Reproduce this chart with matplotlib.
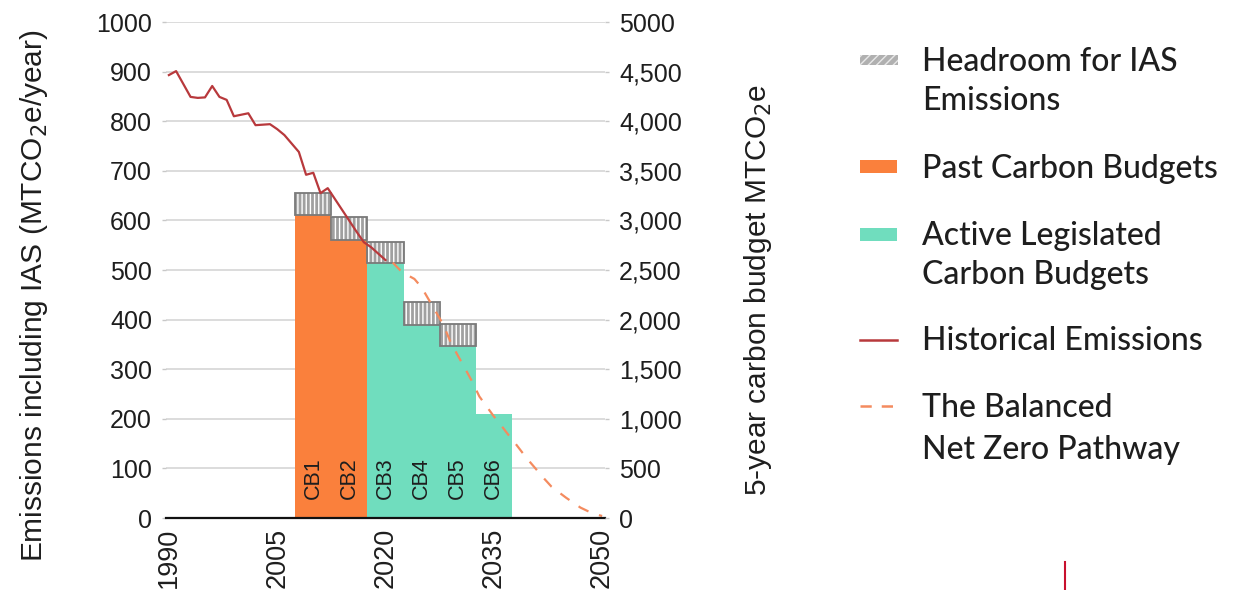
import matplotlib.pyplot as plt
import matplotlib.patches as mpatches
from matplotlib.lines import Line2D
import numpy as np

# carbon budgets (annualised, MtCO2e/year)
budget_names = ["CB1", "CB2", "CB3", "CB4", "CB5", "CB6"]
budget_start = [2008, 2013, 2018, 2023, 2028, 2033]
budget_values = [611, 560, 514, 389, 347, 210]
headroom = [44, 47, 42, 46, 44, 0]
budget_past = [True, True, False, False, False, False]

hist_years = list(range(1990, 2021))
hist_values = [893, 901, 875, 849, 847, 848, 871, 849, 843, 810, 813, 816,
               792, 793, 794, 784, 772, 755, 738, 692, 696, 655, 665, 643,
               621, 599, 577, 556, 546, 533, 520]

path_years = list(range(2021, 2051))
path_values = [515, 500, 490, 482, 465, 440, 415, 390, 355, 328, 302, 275,
               245, 225, 205, 187, 168, 150, 131, 113, 96, 79, 63, 52, 41,
               31, 21, 14, 8, 4]

xticks = [1990, 2005, 2020, 2035, 2050]
left_ticks = list(range(0, 1001, 100))
right_ticks = list(range(0, 5001, 500))
right_labels = ["0", "500", "1,000", "1,500", "2,000", "2,500", "3,000",
                "3,500", "4,000", "4,500", "5000"]

ORANGE = "#FA803C"
GREEN = "#70DDBE"
RED = "#B8393C"
DASH = "#F48B5F"
TXT = "#1e1e1e"
axfont = "Liberation Sans"
legfont = "Lato"

W, H = 1251, 590
fig = plt.figure(figsize=(W / 100, H / 100), dpi=100)
ax = fig.add_axes([166 / W, 72 / H, 439 / W, 496 / H])

for y in left_ticks[1:]:
    ax.axhline(y, color="#d9d9d9", lw=1.3, zorder=0)

for name, s, v, hr, past in zip(budget_names, budget_start, budget_values,
                                 headroom, budget_past):
    c = s + 2
    ax.bar(c, v, width=5, color=ORANGE if past else GREEN, lw=0, zorder=2)
    if hr > 0:
        ax.bar(c, hr, bottom=v, width=5, facecolor="#a0a0a0", lw=0, zorder=2)
        ax.bar(c, hr, bottom=v, width=5, facecolor="none", edgecolor="white",
               hatch="||||", lw=0, zorder=3)
        ax.bar(c, hr, bottom=v, width=5, facecolor="none", edgecolor="#7a7a7a",
               lw=1.3, zorder=4)
    ax.text(c, 38, name, rotation=90, ha="center", va="bottom", fontsize=15.5,
            color=TXT, family=axfont, zorder=5)

ax.plot(hist_years, hist_values, color=RED, lw=1.6, zorder=6)
ax.plot(path_years, path_values, color=DASH, lw=1.6, ls=(0, (5, 5)), zorder=6)

ax.set_xlim(1989.6, 2050.4)
ax.set_ylim(0, 1000)
ax.set_xticks(xticks)
ax.set_xticklabels([str(x) for x in xticks], rotation=90, fontsize=19.5,
                   family=axfont, color=TXT)
ax.set_yticks(left_ticks)
ax.set_yticklabels([str(t) for t in left_ticks], fontsize=18, family=axfont,
                   color=TXT)
ax.tick_params(axis="x", length=0, pad=7)
ax.tick_params(axis="y", length=3, width=1, color="#c8c8c8", pad=7)
for sp in ["top", "left", "right"]:
    ax.spines[sp].set_visible(False)
ax.spines["bottom"].set_color("#111111")
ax.spines["bottom"].set_linewidth(1.6)
ax.spines["bottom"].set_zorder(7)
ax.set_ylabel("Emissions including IAS (MTCO$_2$e/year)", fontsize=21.5,
              family=axfont, color=TXT)
ax.yaxis.set_label_coords(-0.264, 0.448)

ax2 = ax.twinx()
ax2.set_ylim(0, 5000)
ax2.set_yticks(right_ticks)
ax2.set_yticklabels(right_labels, fontsize=18, family=axfont, color=TXT)
ax2.tick_params(axis="y", length=3, width=1, color="#c8c8c8", pad=7)
for sp in ax2.spines.values():
    sp.set_visible(False)
ax2.set_ylabel("5-year carbon budget MTCO$_2$e", fontsize=21.5, family=axfont,
               color=TXT)
ax2.yaxis.set_label_coords(1.312, 0.46)

# legend drawn by hand so the keys sit on the first line of each entry
def fx(x):
    return x / W


def fy(y):
    return 1 - y / H


fig.add_artist(mpatches.Rectangle((fx(860), fy(65)), 38 / W, 10 / H,
                                  facecolor="#b0b0b0", edgecolor="#e8e8e8",
                                  hatch="////", lw=0, transform=fig.transFigure))
fig.add_artist(mpatches.Rectangle((fx(860), fy(173)), 37 / W, 13 / H,
                                  facecolor=ORANGE, lw=0,
                                  transform=fig.transFigure))
fig.add_artist(mpatches.Rectangle((fx(860), fy(241)), 37 / W, 13 / H,
                                  facecolor=GREEN, lw=0,
                                  transform=fig.transFigure))
fig.add_artist(Line2D([fx(860), fx(897)], [fy(340), fy(340)], color=RED,
                      lw=1.8, transform=fig.transFigure))
fig.add_artist(Line2D([fx(860), fx(897)], [fy(406), fy(406)], color=DASH,
                      lw=1.8, ls=(0, (4.5, 4)), transform=fig.transFigure))

leg_lines = [("Headroom for IAS", 71), ("Emissions", 110),
             ("Past Carbon Budgets", 178),
             ("Active Legislated", 245), ("Carbon Budgets", 284),
             ("Historical Emissions", 350),
             ("The Balanced", 417), ("Net Zero Pathway", 459)]
for t, yb in leg_lines:
    fig.text(fx(922), fy(yb), t, fontsize=23, family=legfont, color=TXT,
             weight="medium", ha="left", va="baseline")

fig.add_artist(Line2D([fx(1065), fx(1065)], [fy(562), fy(590)], color="#c8102e",
                      lw=1.5, transform=fig.transFigure))

fig.savefig("out.png", dpi=100)
